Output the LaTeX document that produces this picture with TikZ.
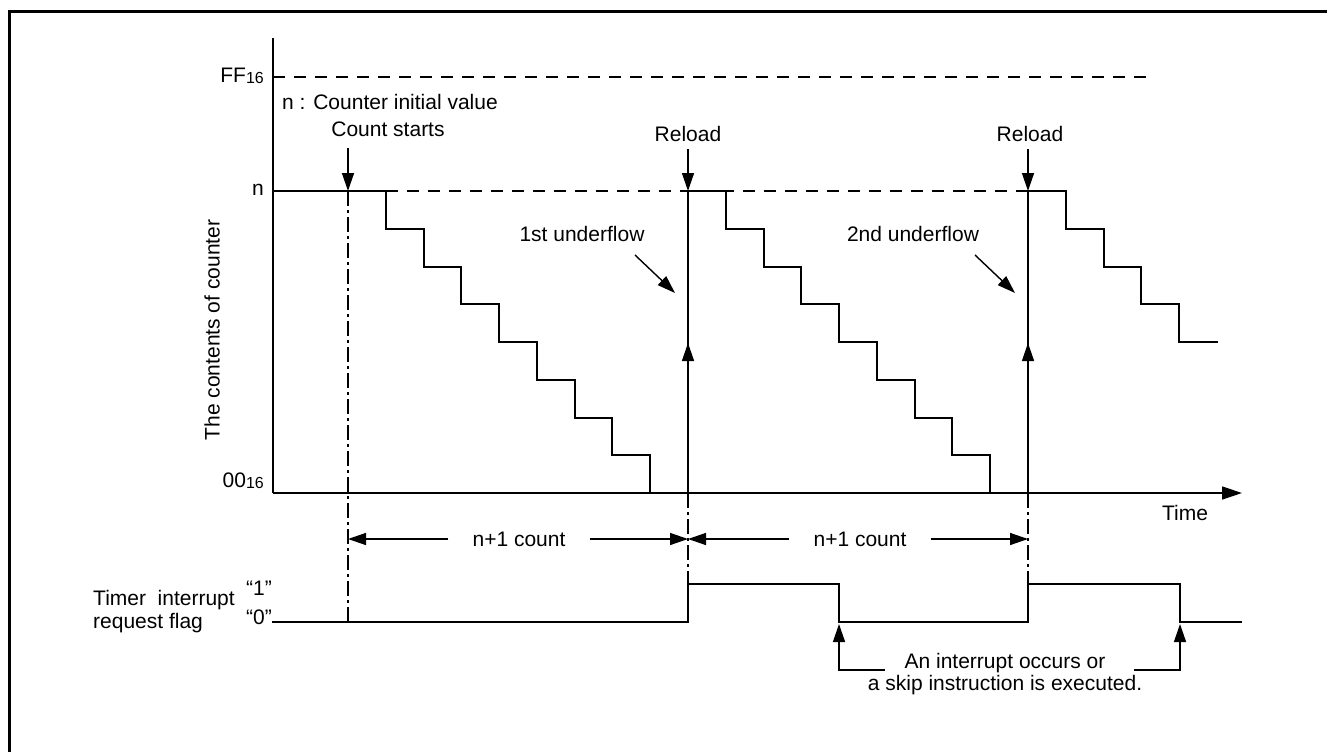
\documentclass[tikz,border=0pt]{standalone}
\usepackage{fontspec}
\setmainfont{Liberation Sans}
\usetikzlibrary{arrows.meta}
\tikzset{
	>={Triangle[length=18pt,width=12pt]}, % filled arrow heads
	every node/.style={font=\fontsize{21}{22}\selectfont, inner sep=0pt},
	signal/.style={line width=2pt, line join=miter}, % counter and flag lines
	axis/.style={line width=1.4pt},
	guide/.style={line width=1.2pt, dash pattern=on 12pt off 9pt}, % FF and n levels
	marker/.style={line width=1.2pt, dash pattern=on 15pt off 4pt on 3pt off 4pt}, % dash-dot time marks
	pointer/.style={line width=1.4pt, ->},
	frame/.style={line width=3pt},
}
\newcommand{\hexsub}[1]{\raisebox{-0.1ex}{\fontsize{16}{16}\selectfont #1}}

\begin{document}
\begin{tikzpicture}[x=1pt,y=-1pt]
	\useasboundingbox (0,0) rectangle (1327,752);
	\draw[frame] (9.5,752) -- (9.5,11.5) -- (1327,11.5);
	
	% key points
	\coordinate (top) at (273,38);
	\coordinate (origin) at (273,493);
	\coordinate (tend) at (1242,493);
	\coordinate (start) at (348,191);
	\coordinate (rel1) at (688,191);
	\coordinate (rel2) at (1028,191);
	
	% labels
	\node[anchor=east] (ff) at (264,76) {FF\hexsub{16}};
	\node[anchor=east] (nval) at (264,190) {n};
	\node[anchor=east] (zero) at (264,481) {00\hexsub{16}};
	\node[anchor=west] (legend) at (282,102) {n : Counter initial value};
	\node (startlbl) at (388,129) {Count starts};
	\node (rel1lbl) at (688,134) {Reload};
	\node (rel2lbl) at (1030,134) {Reload};
	\node (under1) at (582,234) {1st underflow};
	\node (under2) at (913,234) {2nd underflow};
	\node[rotate=90] (ylabel) at (212,330) {The contents of counter};
	\node (time) at (1185,513) {Time};
	\node[anchor=base west] (flag1) at (93,605) {Timer\ \ interrupt};
	\node[anchor=base west] (flag2) at (93,628) {request flag};
	\node[anchor=base east] (one) at (272,595) {“1”};
	\node[anchor=base east] (nil) at (272,624) {“0”};
	\node[anchor=base] (intr1) at (1005,668) {An interrupt occurs or};
	\node[anchor=base] (intr2) at (1005,690) {a skip instruction is executed.};
	
	% levels and time marks
	\draw[guide] (top |- 0,77) -- (1150,77);
	\draw[guide] (386,191) -- (rel2);
	\draw[marker] (start) -- (348,622);
	\draw[marker] (688,493) -- (688,584);
	\draw[marker] (1028,493) -- (1028,584);
	
	% axes
	\draw[axis] (top) -- (origin);
	\draw[axis,->,>={Triangle[length=20pt,width=13pt]}] (origin) -- (tend);
	
	% counter contents
	\draw[signal] (273,191)
		\foreach \k in {1,...,8}{ -- ({348+37.75*\k},{191+37.75*(\k-1)}) -- ({348+37.75*\k},{191+37.75*\k}) }
		-- (688,493) -- (rel1)
		\foreach \k in {1,...,8}{ -- ({688+37.75*\k},{191+37.75*(\k-1)}) -- ({688+37.75*\k},{191+37.75*\k}) }
		-- (1028,493) -- (rel2)
		\foreach \k in {1,...,4}{ -- ({1028+37.75*\k},{191+37.75*(\k-1)}) -- ({1028+37.75*\k},{191+37.75*\k}) }
		-- (1218,342);
	\draw[pointer] (688,400) -- (688,343);
	\draw[pointer] (1028,400) -- (1028,343);
	
	% flag
	\draw[signal] (272,622) -- (688,622) |- (839,584) |- (1028,622) |- (1180,584) |- (1242,622);
	
	% pointers
	\draw[pointer] (348,148) -- (start);
	\draw[pointer] (688,149) -- (rel1);
	\draw[pointer] (1028,149) -- (rel2);
	\draw[pointer] (635,255) -- (675,293);
	\draw[pointer] (975,255) -- (1015,293);
	
	% count spans
	\node[inner xsep=24pt] (cnt1) at (519,539) {n+1 count};
	\node[inner xsep=24pt] (cnt2) at (860,539) {n+1 count};
	\draw[pointer] (cnt1.west) -- (348,539);
	\draw[pointer] (cnt1.east) -- (688,539);
	\draw[pointer] (cnt2.west) -- (688,539);
	\draw[pointer] (cnt2.east) -- (1028,539);
	
	% interrupt callout
	\draw[pointer] (885,670) -| (839,624);
	\draw[pointer] (1134,670) -| (1180,624);
\end{tikzpicture}
\end{document}
